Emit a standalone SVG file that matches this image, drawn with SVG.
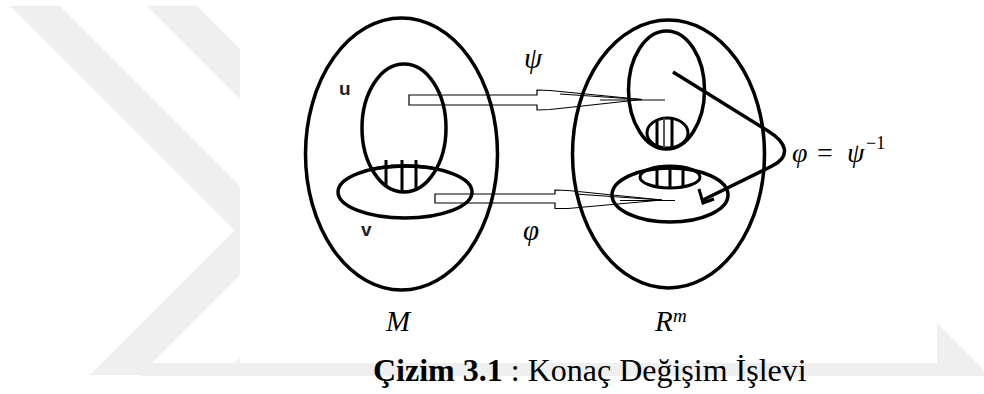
<svg xmlns="http://www.w3.org/2000/svg" width="984" height="394" viewBox="0 0 984 394">
<style>
.wm{fill:#efefef;stroke:none}
.ln{fill:none;stroke:#000;stroke-width:3.5}
.hl{fill:none;stroke:#000;stroke-width:3}
.ar{fill:none;stroke:#000;stroke-width:1.2}
.lbl{font-family:"Liberation Sans",Arial,sans-serif;font-weight:bold;font-size:19px;fill:#1e1e2e}
.math{font-family:"Liberation Serif","Times New Roman",serif;font-style:italic;fill:#000}
.up{font-family:"Liberation Serif","Times New Roman",serif;fill:#000}
.cap{font-family:"Liberation Serif","Times New Roman",serif;font-size:32px;fill:#000}
</style>
<defs>
<clipPath id="lensL"><ellipse cx="404" cy="128" rx="42" ry="64"/></clipPath>
<clipPath id="hatchR1"><ellipse cx="667.5" cy="133" rx="20.5" ry="15"/></clipPath>
<clipPath id="hatchR2"><ellipse cx="670" cy="177" rx="30" ry="11"/></clipPath>
</defs>
<rect width="984" height="394" fill="#fff"/>
<g id="watermark">
<polygon class="wm" points="10,6 60,6 284.5,230.5 140,375 90,375 234.5,230.5"/>
<polygon class="wm" points="147,6 197,6 419.5,228.5 273,375 223,375 369.5,228.5"/>
<polygon class="wm" points="140,363 937,363 937,323 990,376 140,376"/>
<rect x="240" y="0" width="697" height="363" fill="#fff"/>
</g>
<g id="M">
<ellipse class="ln" cx="401.5" cy="154" rx="96" ry="136"/>
<text class="math" x="386" y="331" font-size="29">M</text>
</g>
<g id="U">
<ellipse class="ln" cx="404" cy="128" rx="42" ry="64"/>
<text class="lbl" x="339" y="95">u</text>
</g>
<g id="V">
<ellipse class="ln" cx="405" cy="192" rx="67" ry="26"/>
<text class="lbl" x="361" y="236">v</text>
</g>
<g id="UV-hatch" clip-path="url(#lensL)">
<ellipse class="ln" cx="405" cy="192" rx="67" ry="26"/>
<line class="hl" x1="386" y1="160" x2="386" y2="200"/>
<line class="hl" x1="402" y1="160" x2="402" y2="200"/>
<line class="hl" x1="416" y1="160" x2="416" y2="200"/>
</g>
<g id="Rm">
<ellipse class="ln" cx="668.5" cy="154" rx="96" ry="134"/>
<text class="math" x="655" y="331" font-size="29">R</text>
<text class="math" x="673" y="322" font-size="19">m</text>
</g>
<g id="RU">
<ellipse class="ln" cx="666.5" cy="90" rx="38" ry="59"/>
<ellipse class="hl" cx="667.5" cy="133" rx="20.5" ry="15"/>
<g clip-path="url(#hatchR1)">
<line class="hl" x1="657" y1="115" x2="657" y2="150"/>
<line x1="664" y1="115" x2="664" y2="150" stroke="#555" stroke-width="2"/>
<line class="hl" x1="672" y1="115" x2="672" y2="150"/>
</g>
</g>
<g id="RV">
<ellipse class="ln" cx="670" cy="195" rx="58" ry="27"/>
<ellipse class="hl" cx="670" cy="177" rx="30" ry="11"/>
<g clip-path="url(#hatchR2)">
<line class="hl" x1="657" y1="164" x2="657" y2="190"/>
<line class="hl" x1="670" y1="164" x2="670" y2="190"/>
<line class="hl" x1="683" y1="164" x2="683" y2="190"/>
</g>
</g>
<g id="connectors">
<g id="psi-arrow">
<polygon class="ar" points="409,95 537,95 537,90 550,90.5 642,99.5 550,109.5 537,110 537,105 409,105"/>
<line class="ar" x1="560" y1="94" x2="642" y2="99.5"/>
<line class="ar" x1="600" y1="100" x2="665" y2="100"/>
<text class="math" x="524" y="68" font-size="29">ψ</text>
</g>
<g id="phi-arrow">
<polygon class="ar" points="435,194 555,194 555,190 568,190.5 662,200 568,208.5 555,208.5 555,203 435,203"/>
<line class="ar" x1="575" y1="194" x2="662" y2="200"/>
<line class="ar" x1="620" y1="200.5" x2="675" y2="200.5"/>
<text class="math" x="523" y="240" font-size="29">φ</text>
</g>
<g id="inverse">
<path class="ln" d="M673,72 L768,131 C786,142 792,156 772,166 L703,200"/>
<path class="hl" d="M699,189 L703,203 L714,199"/>
<text class="math" x="792" y="162" font-size="28">φ</text>
<text class="up" x="817" y="162" font-size="28">=</text>
<text class="math" x="847" y="162" font-size="28">ψ</text>
<text class="up" x="866" y="149" font-size="18">−1</text>
</g>
</g>
<g id="caption">
<text class="cap" x="373" y="381"><tspan font-weight="bold">Çizim 3.1</tspan> : Konaç Değişim İşlevi</text>
</g>
</svg>
